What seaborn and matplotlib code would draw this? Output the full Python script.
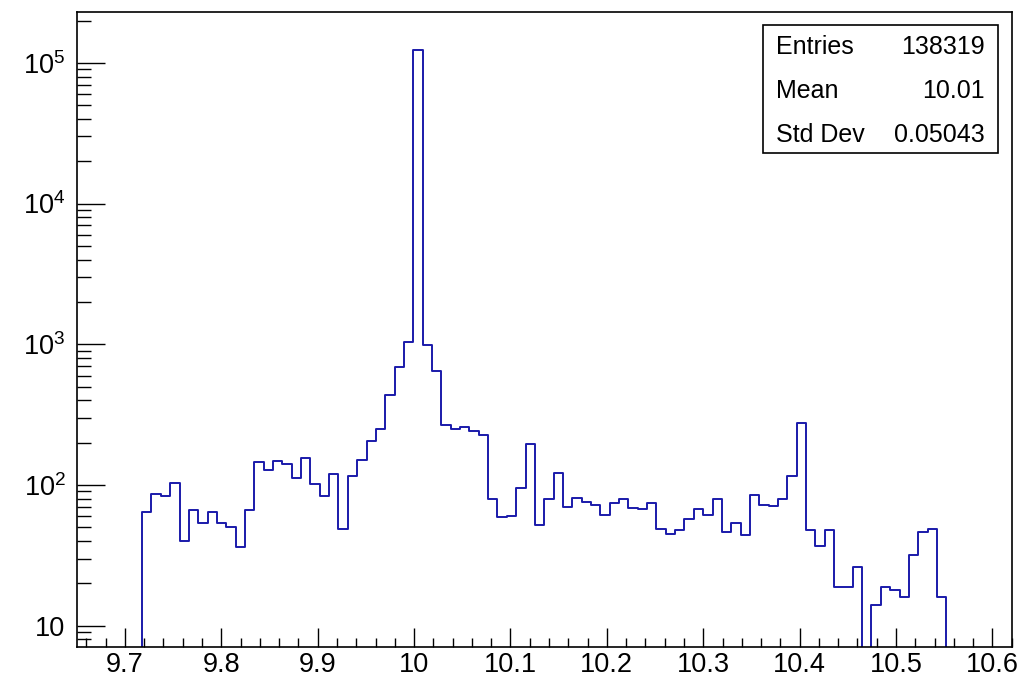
import numpy as np
import pandas as pd
import matplotlib
matplotlib.use("Agg")
import matplotlib.pyplot as plt
import seaborn as sns
from matplotlib.ticker import FixedLocator, MultipleLocator, LogLocator, NullFormatter
from matplotlib.patches import Rectangle

# ---- data ----
x_min, x_max, n_bins = 9.65, 10.62, 100
counts = [
    0, 0, 0, 0, 0, 0, 0,
    64, 86, 83, 104, 40, 66, 54, 64, 54, 50, 36, 66,
    145, 128, 148, 140, 112, 155, 101, 83, 120, 49, 116, 151,
    205, 251, 436, 687, 1040, 124000, 984, 646, 268, 251, 260, 241, 227,
    79, 59, 60, 95, 196, 52, 79, 121, 70, 81,
    76, 72, 61, 74, 80, 69, 68, 74, 49, 45,
    48, 57, 68, 61, 80, 46, 54, 44, 85, 72,
    71, 80, 116, 274, 48, 37, 48, 19, 19, 26,
    0, 14, 19, 18, 16, 32, 46, 49, 16,
    0, 0, 0, 0, 0, 0, 0,
]
x_ticks = [9.7, 9.8, 9.9, 10.0, 10.1, 10.2, 10.3, 10.4, 10.5, 10.6]
x_tick_labels = ["9.7", "9.8", "9.9", "10", "10.1", "10.2", "10.3", "10.4", "10.5", "10.6"]
y_ticks = [10, 100, 1000, 10000, 100000]
y_tick_labels = ["10", "$10^{2}$", "$10^{3}$", "$10^{4}$", "$10^{5}$"]
y_min, y_max = 7.1, 2.31e5
stats_labels = ["Entries", "Mean", "Std Dev"]
stats_values = ["138319", "10.01", "0.05043"]

# ---- style ----
sns.set_theme(style="white")
plt.rcParams["font.family"] = ["Liberation Sans", "DejaVu Sans"]
plt.rcParams["mathtext.fontset"] = "custom"
plt.rcParams["mathtext.rm"] = "Liberation Sans"
plt.rcParams["mathtext.it"] = "Liberation Sans:italic"
plt.rcParams["mathtext.bf"] = "Liberation Sans:bold"

edges = np.linspace(x_min, x_max, n_bins + 1)
centers = 0.5 * (edges[:-1] + edges[1:])
df = pd.DataFrame({"x": centers, "w": counts})

fig = plt.figure(figsize=(10.35, 6.77), dpi=100)
ax = fig.add_axes([0.0741, 0.0448, 0.9034, 0.9379])

sns.histplot(data=df, x="x", weights="w", bins=n_bins, binrange=(x_min, x_max),
             element="step", fill=False, color="#1a1aaa", linewidth=1.4, ax=ax)

ax.set_yscale("log")
ax.set_xlim(x_min, x_max)
ax.set_ylim(y_min, y_max)
ax.set_xlabel("")
ax.set_ylabel("")

ax.xaxis.set_major_locator(FixedLocator(x_ticks))
ax.set_xticklabels(x_tick_labels)
ax.xaxis.set_minor_locator(MultipleLocator(0.02))
ax.yaxis.set_major_locator(FixedLocator(y_ticks))
ax.set_yticklabels(y_tick_labels)
ax.yaxis.set_minor_locator(LogLocator(base=10, subs=np.arange(2, 10), numticks=20))
ax.yaxis.set_minor_formatter(NullFormatter())

ax.tick_params(axis="x", which="major", direction="in", length=13.5, width=1.0,
               labelsize=19.5, pad=3.5, color="black", bottom=True, top=False)
ax.tick_params(axis="x", which="minor", direction="in", length=6.8, width=1.0,
               bottom=True, top=False, color="black")
ax.tick_params(axis="y", which="major", direction="in", length=20, width=1.0,
               labelsize=19.5, pad=8, color="black", left=True, right=False)
ax.tick_params(axis="y", which="minor", direction="in", length=10, width=1.0,
               left=True, right=False, color="black")
for lbl in ax.get_xticklabels() + ax.get_yticklabels():
    lbl.set_color("black")

for s in ax.spines.values():
    s.set_visible(True)
    s.set_color("black")
    s.set_linewidth(1.2)
ax.grid(False)

# ---- stats box ----
W, H = 1035.0, 677.0
bx0, bx1, by0, by1 = 763, 998, 25, 153
fig.patches.append(Rectangle((bx0 / W, 1 - by1 / H), (bx1 - bx0) / W, (by1 - by0) / H,
                             transform=fig.transFigure, facecolor="white",
                             edgecolor="black", linewidth=1.2, zorder=5))
rows_y = [47, 91, 135]
for lab, val, yy in zip(stats_labels, stats_values, rows_y):
    fig.text(776 / W, 1 - yy / H, lab, ha="left", va="center", fontsize=18,
             color="black", zorder=6)
    fig.text(985 / W, 1 - yy / H, val, ha="right", va="center", fontsize=18,
             color="black", zorder=6)

fig.savefig("out.png", dpi=100, facecolor="white")
